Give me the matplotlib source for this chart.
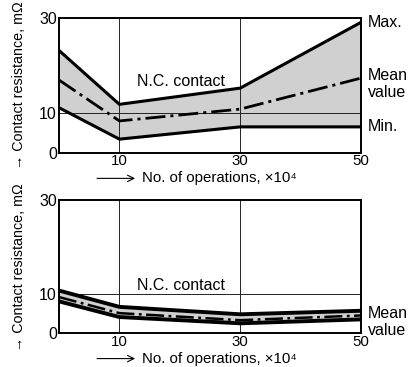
import matplotlib
matplotlib.use("Agg")
import matplotlib.pyplot as plt
import numpy as np

plt.rcParams['font.family'] = ['Liberation Sans', 'DejaVu Sans']
plt.rcParams['font.size'] = 11.5

# data (contact resistance, mOhm)
ops = [0, 10, 30, 50]
top_max = [23.2, 11.9, 15.3, 29.1]
top_mean = [17.0, 8.1, 10.9, 17.4]
top_min = [11.2, 3.5, 6.6, 6.6]

bot_max = [10.8, 6.8, 4.9, 5.8]
bot_mean = [9.3, 5.2, 3.4, 4.6]
bot_min = [8.2, 4.2, 2.6, 3.6]

xticks = [10, 30, 50]
yticks = [0, 10, 30]


# the original axis is a bit stretched below 10
def fwd(y):
    y = np.asarray(y, dtype=float)
    return np.where(y < 10, y * 0.88, 8.8 + (y - 10) * 1.06)

def inv(v):
    v = np.asarray(v, dtype=float)
    return np.where(v < 8.8, v / 0.88, 10 + (v - 8.8) / 1.06)


fig = plt.figure(figsize=(4.16, 3.67), dpi=100)
ax1 = fig.add_axes([0.1418, 0.5831, 0.726, 0.3678])
ax2 = fig.add_axes([0.1418, 0.0913, 0.726, 0.3638])

dash = (0, (7.2, 1.8, 1.1, 1.8))

for ax in (ax1, ax2):
    ax.set_yscale('function', functions=(fwd, inv))
    ax.set_xlim(0, 50)
    ax.set_ylim(0, 30)
    ax.set_xticks(xticks)
    ax.set_yticks(yticks)
    ax.set_yticklabels([str(t) for t in yticks])
    ax.tick_params(axis='y', length=0, pad=1.5)
    ax.tick_params(axis='x', length=0, pad=1.0, labelsize=10.8)
    ax.minorticks_off()
    for s in ax.spines.values():
        s.set_linewidth(1.4)
    ax.axvline(10, color='#222222', lw=0.7, zorder=1)
    ax.axvline(30, color='#222222', lw=0.7, zorder=1)
    ax.axhline(10, color='#222222', lw=0.7, zorder=1)
    ax.set_ylabel('→ Contact resistance, mΩ', fontsize=10.3)
    ax.yaxis.set_label_coords(-0.11, 0.5)
    # arrow + x label text
    ax.annotate('', xy=(0.252, -0.188), xytext=(0.126, -0.188),
                xycoords='axes fraction', textcoords='axes fraction',
                arrowprops=dict(arrowstyle='->', lw=0.8, color='black',
                                shrinkA=0, shrinkB=0))
    ax.text(0.276, -0.188, 'No. of operations, ×10⁴', transform=ax.transAxes,
            ha='left', va='center', fontsize=10.8)

# top chart
ax1.fill_between(ops, top_min, top_max, color='#d0d0d0', zorder=0)
ax1.plot(ops, top_max, color='black', lw=2.2, zorder=3, solid_joinstyle='miter')
ax1.plot(ops, top_min, color='black', lw=2.2, zorder=3, solid_joinstyle='miter')
ax1.plot(ops, top_mean, color='black', lw=2.0, linestyle=dash, zorder=3)
ax1.text(20.2, 16.6, 'N.C. contact', ha='center', va='center')
ax1.annotate('Max.', (50, top_max[-1]), xytext=(5, 0), textcoords='offset points',
             va='center', annotation_clip=False)
ax1.annotate('Mean\nvalue', (50, top_mean[-1]), xytext=(5, 7), textcoords='offset points',
             va='top', linespacing=1.15, annotation_clip=False)
ax1.annotate('Min.', (50, top_min[-1]), xytext=(5, 0), textcoords='offset points',
             va='center', annotation_clip=False)

# bottom chart
ax2.fill_between(ops, bot_min, bot_max, color='#d0d0d0', zorder=2)
ax2.plot(ops, bot_max, color='black', lw=2.8, zorder=3)
ax2.plot(ops, bot_min, color='black', lw=2.8, zorder=3)
ax2.plot(ops, bot_mean, color='black', lw=1.8, linestyle=dash, zorder=3)
ax2.text(20.2, 11.9, 'N.C. contact', ha='center', va='center')
ax2.annotate('Mean\nvalue', (50, bot_mean[-1]), xytext=(5, 7), textcoords='offset points',
             va='top', linespacing=1.15, annotation_clip=False)

fig.savefig('out.png', dpi=100)
